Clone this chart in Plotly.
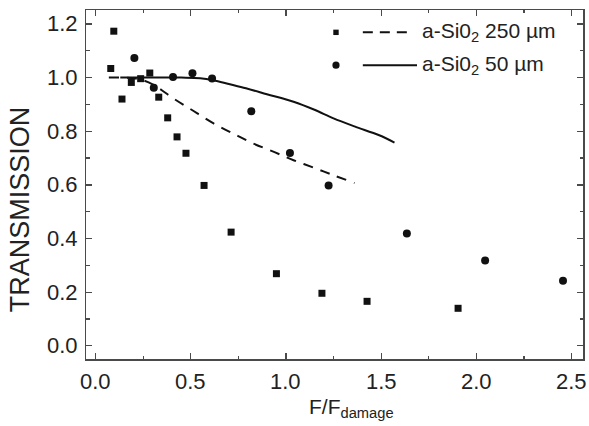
import plotly.graph_objects as go

# Data
sq_x = [0.080, 0.096, 0.139, 0.188, 0.237, 0.285, 0.332, 0.379, 0.428, 0.475, 0.570, 0.712, 0.950, 1.189, 1.426, 1.904]
sq_y = [1.034, 1.173, 0.920, 0.982, 0.996, 1.017, 0.927, 0.850, 0.779, 0.718, 0.598, 0.424, 0.269, 0.196, 0.166, 0.140]

circ_x = [0.204, 0.306, 0.407, 0.509, 0.612, 0.818, 1.021, 1.224, 1.635, 2.046, 2.455]
circ_y = [1.073, 0.962, 1.002, 1.016, 0.997, 0.875, 0.719, 0.598, 0.419, 0.318, 0.243]

dash_x = [0.07, 0.15, 0.20, 0.25, 0.30, 0.35, 0.41, 0.50, 0.62, 0.73, 0.83, 0.94, 1.04, 1.15, 1.25, 1.36]
dash_y = [1.000, 1.000, 0.998, 0.990, 0.975, 0.952, 0.922, 0.882, 0.829, 0.789, 0.754, 0.722, 0.692, 0.663, 0.636, 0.607]

solid_x = [0.13, 0.30, 0.45, 0.55, 0.62, 0.70, 0.79, 0.90, 1.04, 1.15, 1.25, 1.36, 1.49, 1.57]
solid_y = [1.000, 1.000, 1.000, 0.998, 0.990, 0.976, 0.960, 0.938, 0.910, 0.880, 0.848, 0.818, 0.785, 0.758]

x_ticks = [0.0, 0.5, 1.0, 1.5, 2.0, 2.5]
y_ticks = [0.0, 0.2, 0.4, 0.6, 0.8, 1.0, 1.2]

labels = ["a-Si0<sub>2</sub> 250 µm", "a-Si0<sub>2</sub> 50 µm"]

FONT = "Liberation Sans, Arial, Helvetica, sans-serif"
AX = "#4a4a4a"
INK = "#111111"
TICKFONT = dict(family=FONT, size=22, color="#222")

fig = go.Figure()
fig.add_trace(go.Scatter(x=dash_x, y=dash_y, mode="lines", line=dict(color=INK, width=2, dash="10px,8px", shape="spline"), showlegend=False))
fig.add_trace(go.Scatter(x=solid_x, y=solid_y, mode="lines", line=dict(color=INK, width=2, shape="spline"), showlegend=False))
fig.add_trace(go.Scatter(x=sq_x, y=sq_y, mode="markers", marker=dict(symbol="square", size=7, color=INK), showlegend=False))
fig.add_trace(go.Scatter(x=circ_x, y=circ_y, mode="markers", marker=dict(symbol="circle", size=8, color=INK), showlegend=False))

axis_common = dict(
    showline=True, linecolor=AX, linewidth=1.5, mirror="ticks",
    ticks="inside", ticklen=6, tickwidth=1.2, tickcolor=AX,
    showgrid=False, zeroline=False, automargin=False,
    tickfont=TICKFONT,
)

fig.update_xaxes(range=[-0.05, 2.56], tickvals=x_ticks, showticklabels=False,
                 minor=dict(ticks="inside", ticklen=3, dtick=0.25, tick0=0, tickcolor=AX, tickwidth=1.2),
                 **axis_common)
fig.update_yaxes(range=[-0.049, 1.252], tickvals=y_ticks, showticklabels=False,
                 minor=dict(ticks="inside", ticklen=3.5, dtick=0.1, tick0=0, tickcolor=AX, tickwidth=1.2),
                 **axis_common)

# Legend drawn manually (marker + line + label)
ly = [0.936, 0.842]
shapes = [
    dict(type="rect", xref="paper", yref="paper", xsizemode="pixel", ysizemode="pixel",
         xanchor=0.503, yanchor=ly[0], x0=-2.7, x1=2.7, y0=-2.7, y1=2.7, fillcolor=INK, line=dict(width=0)),
    dict(type="circle", xref="paper", yref="paper", xsizemode="pixel", ysizemode="pixel",
         xanchor=0.503, yanchor=ly[1], x0=-3.6, x1=3.6, y0=-3.6, y1=3.6, fillcolor=INK, line=dict(width=0)),
    dict(type="line", xref="paper", yref="paper", x0=0.557, x1=0.655, y0=ly[0], y1=ly[0],
         line=dict(color=INK, width=2, dash="10px,7px")),
    dict(type="line", xref="paper", yref="paper", x0=0.557, x1=0.666, y0=ly[1], y1=ly[1],
         line=dict(color=INK, width=2)),
]
annotations = [
    dict(text=labels[0], xref="paper", yref="paper", x=0.673, y=ly[0], xanchor="left", yanchor="middle",
         showarrow=False, font=dict(family=FONT, size=21, color="#222")),
    dict(text=labels[1], xref="paper", yref="paper", x=0.673, y=ly[1], xanchor="left", yanchor="middle",
         showarrow=False, font=dict(family=FONT, size=21, color="#222")),
    dict(text="TRANSMISSION", xref="paper", yref="paper", x=-0.132, y=0.43, xanchor="center", yanchor="middle",
         textangle=-90, showarrow=False, font=dict(family=FONT, size=27, color="#222")),
    dict(text="F/F<sub>damage</sub>", xref="paper", yref="paper", x=0.535, y=-0.14, xanchor="center", yanchor="middle",
         showarrow=False, font=dict(family=FONT, size=21, color="#222")),
]
# tick labels placed at the axes' tick values
for v in y_ticks:
    annotations.append(dict(text=f"{v:.1f}", xref="paper", yref="y", x=0, y=v, xanchor="right", yanchor="middle",
                            xshift=-6, showarrow=False, font=TICKFONT))
for v in x_ticks:
    annotations.append(dict(text=f"{v:.1f}", xref="x", yref="paper", x=v, y=0, xanchor="center", yanchor="top",
                            yshift=-8, showarrow=False, font=TICKFONT))

fig.update_layout(
    width=589, height=426,
    margin=dict(l=86, r=6, t=10, b=67),
    paper_bgcolor="white", plot_bgcolor="white",
    shapes=shapes, annotations=annotations,
    showlegend=False,
)

fig.write_html("out.html", config={"displayModeBar": False, "staticPlot": True},
               post_script="document.body.style.margin='0';document.body.style.padding='0';document.documentElement.style.overflow='hidden';")
